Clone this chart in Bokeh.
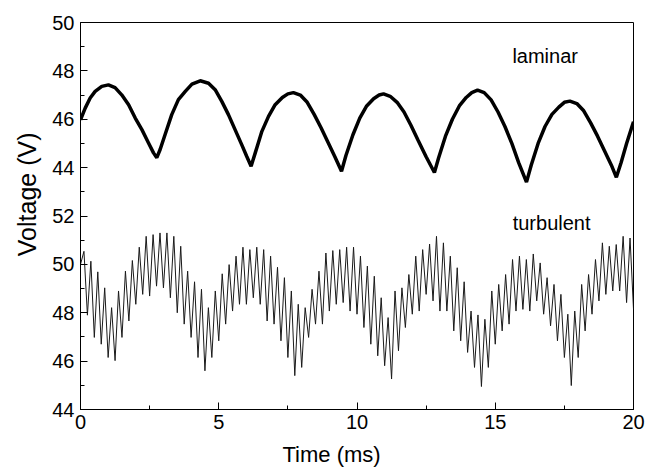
import numpy as np
from bokeh.plotting import figure
from bokeh.models import FixedTicker, SingleIntervalTicker, Range1d, Label, Title
from bokeh.embed import file_html
from bokeh.resources import INLINE

# ---------------- data ----------------
# laminar trace (upper panel), time in ms, voltage in V
lam_t = [0.0, 0.17, 0.35, 0.53, 0.77, 1.01, 1.25, 1.49, 1.74, 1.98, 2.22, 2.46, 2.64, 2.76,
         2.88, 3.06, 3.30, 3.54, 3.79, 4.03, 4.33, 4.63, 4.87, 5.11, 5.35, 5.59, 5.83, 6.01, 6.17,
         6.32, 6.56, 6.80, 7.04, 7.30, 7.50, 7.70, 7.95, 8.20, 8.45, 8.70, 8.95, 9.20, 9.44,
         9.60, 9.85, 10.10, 10.35, 10.60, 10.80, 10.96, 11.20, 11.45, 11.70, 11.95, 12.20, 12.50, 12.80,
         12.95, 13.20, 13.45, 13.70, 13.95, 14.15, 14.36, 14.60, 14.85, 15.10, 15.35, 15.60, 15.85, 16.13,
         16.30, 16.55, 16.80, 17.05, 17.30, 17.50, 17.70, 17.95, 18.20, 18.45, 18.70, 18.95, 19.20, 19.38,
         19.55, 19.75, 20.0]
lam_v = [45.98, 46.46, 46.88, 47.15, 47.36, 47.42, 47.31, 47.01, 46.60, 46.05, 45.57, 45.02, 44.61, 44.41,
         44.75, 45.37, 46.19, 46.81, 47.15, 47.45, 47.59, 47.49, 47.22, 46.74, 46.19, 45.57, 44.95, 44.47, 44.06,
         44.61, 45.50, 46.12, 46.60, 46.90, 47.05, 47.10, 47.00, 46.70, 46.20, 45.65, 45.05, 44.45, 43.85,
         44.50, 45.35, 46.05, 46.55, 46.85, 47.00, 47.05, 46.95, 46.70, 46.30, 45.75, 45.15, 44.45, 43.80,
         44.40, 45.30, 46.00, 46.55, 46.90, 47.10, 47.20, 47.10, 46.80, 46.30, 45.70, 45.00, 44.20, 43.40,
         44.10, 45.00, 45.70, 46.20, 46.50, 46.70, 46.75, 46.65, 46.35, 45.85, 45.30, 44.70, 44.10, 43.60,
         44.20, 45.00, 45.90]

# turbulent trace (lower panel): successive peaks / troughs, evenly sampled over 0-20 ms
turb_v = [50.00, 50.54, 47.90, 50.13, 46.98, 49.69, 46.70, 49.03, 46.15, 48.21, 46.02, 48.90, 46.98, 49.72,
          47.66, 50.16, 48.35, 50.71, 48.76, 51.16, 48.69, 51.23, 49.10, 51.30, 49.03, 51.30, 48.62, 51.16,
          48.00, 50.75, 47.53, 49.72, 46.98, 49.28, 46.15, 48.97, 45.60, 48.21, 46.15, 48.90, 46.84, 49.61,
          47.53, 49.99, 48.07, 50.34, 48.35, 50.71, 48.35, 50.61, 48.62, 50.71, 48.35, 50.61, 47.66, 50.34,
          47.53, 49.88, 46.84, 49.45, 46.15, 48.90, 45.40, 48.35, 45.74, 48.21, 46.98, 48.97, 47.53, 49.72,
          47.53, 50.47, 48.07, 50.57, 48.35, 50.61, 48.42, 50.71, 48.07, 50.71, 47.94,
          50.34, 47.39, 49.93, 46.70, 49.51, 46.22, 48.62, 45.81, 47.80, 45.26, 48.90, 46.43, 49.03, 47.39,
          49.58, 47.94, 50.34, 48.07, 50.61, 48.76, 50.84, 48.49, 51.16, 48.07, 50.89, 48.07, 50.34, 47.25,
          49.86, 46.84, 49.28, 46.36, 48.07, 45.74, 47.91, 44.95, 47.73, 45.74, 48.90,
          46.70, 49.17, 47.25, 49.58, 47.53, 50.20, 48.07, 50.34, 48.14, 50.20, 48.07, 50.43, 48.49, 50.06,
          47.94, 49.45, 47.46, 49.17, 46.84, 48.76, 46.15, 47.94, 44.99, 48.07, 46.15, 49.17, 47.25, 49.58,
          47.94, 50.20, 48.49, 50.89, 48.76, 50.75, 48.90, 50.82, 48.90, 51.16, 48.42, 51.09, 48.14]
turb_t = np.linspace(0, 20, len(turb_v))

# stacked panels: upper panel drawn with an offset on a shared axis
panel_offset = 10
y_ticks = [44, 46, 48, 50, 52, 54, 56, 58, 60]
y_tick_labels = ["44", "46", "48", "50", "52", "44", "46", "48", "50"]
y_minor = [45, 47, 49, 51, 53, 55, 57, 59]

FONT = "Liberation Sans"

p = figure(width=646, height=475, x_range=Range1d(0, 20), y_range=Range1d(44, 60),
           output_backend="svg", toolbar_location=None,
           min_border_left=80, min_border_right=13, min_border_top=22, min_border_bottom=64)
p.background_fill_color = "white"
p.border_fill_color = "white"
p.grid.visible = False
p.outline_line_color = "black"
p.outline_line_width = 1

p.line(lam_t, [v + panel_offset for v in lam_v], line_width=3.5, color="black")
p.line(turb_t, turb_v, line_width=1, color="#1a1a1a")

p.xaxis.ticker = SingleIntervalTicker(interval=5, num_minor_ticks=2)
p.yaxis.ticker = FixedTicker(ticks=y_ticks, minor_ticks=y_minor)
p.yaxis.major_label_overrides = {t: l for t, l in zip(y_ticks, y_tick_labels)}

for ax in (p.xaxis[0], p.yaxis[0]):
    ax.axis_line_color = "black"
    ax.axis_line_width = 1
    ax.major_tick_in = 7
    ax.major_tick_out = 0
    ax.minor_tick_in = 4
    ax.minor_tick_out = 0
    ax.major_tick_line_color = "black"
    ax.minor_tick_line_color = "black"
    ax.major_label_text_font = FONT
    ax.major_label_text_font_size = "20px"
    ax.major_label_text_color = "black"
p.xaxis.major_label_standoff = 5
p.yaxis.major_label_standoff = 6

# axis titles as side titles (allow an offset along the axis)
p.add_layout(Title(text="Time (ms)", align="left", offset=202, text_font=FONT,
                   text_font_size="22px", text_font_style="normal", text_color="black",
                   standoff=17), "below")
p.add_layout(Title(text="Voltage (V)", align="right", offset=110, text_font=FONT,
                   text_font_size="25px", text_font_style="normal", text_color="black",
                   standoff=18), "left")

p.add_layout(Label(x=15.62, y=58.6, text="laminar", text_font=FONT, text_font_size="20px",
                   text_baseline="alphabetic", text_align="left", text_color="black"))
p.add_layout(Label(x=15.63, y=51.7, text="turbulent", text_font=FONT, text_font_size="20px",
                   text_baseline="alphabetic", text_align="left", text_color="black"))

open("out.html", "w").write(file_html(p, INLINE))
